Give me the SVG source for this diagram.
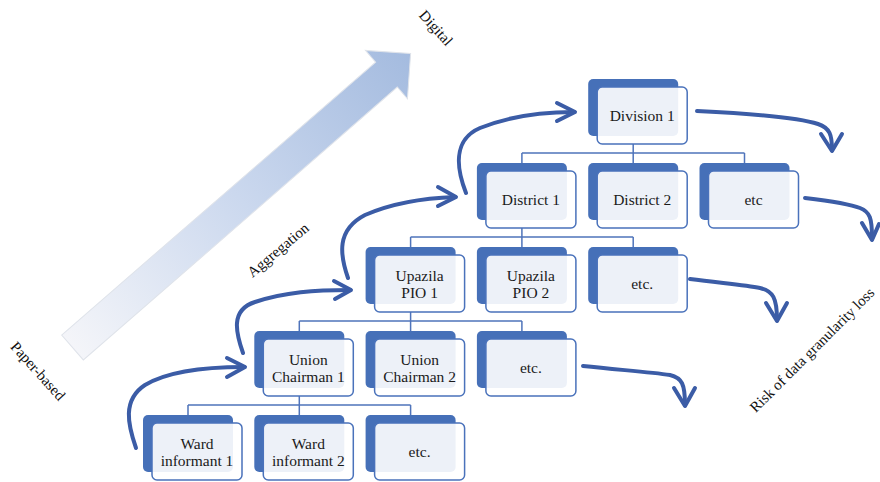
<svg xmlns="http://www.w3.org/2000/svg" width="880" height="482" viewBox="0 0 880 482" font-family="'Liberation Serif', 'Times New Roman', serif">
<defs>
<linearGradient id="bigGrad" x1="0" y1="0" x2="448" y2="0" gradientUnits="userSpaceOnUse">
<stop offset="0" stop-color="#f4f5f9"/>
<stop offset="0.5" stop-color="#cbd8ee"/>
<stop offset="1" stop-color="#a4bbdf"/>
</linearGradient>
</defs>
<style>
.back{fill:#4670b8;}
.front{fill:#ffffff;fill-opacity:0.9;stroke:#4a72bb;stroke-width:1.5;}
.lbl{font-family:'Liberation Serif','Times New Roman',serif;font-size:15.5px;fill:#1a1a1a;text-anchor:middle;}
.side{font-family:'Liberation Serif','Times New Roman',serif;font-size:15px;fill:#111;text-anchor:middle;}
.tree{fill:none;stroke:#4f74bb;stroke-width:1.5;}
.flow{fill:none;stroke:#3b5ca6;stroke-width:4;stroke-linecap:round;stroke-linejoin:round;}
</style>
<rect width="880" height="482" fill="#ffffff"/>

<g id="progress-arrow" transform="translate(72.5,347.5) rotate(-41)">
<polygon points="0,-16.5 416,-16.5 416,-32 448,0 416,32 416,16.5 0,16.5" fill="url(#bigGrad)" stroke="#dfe3ea" stroke-width="1"/>
</g>

<g id="labels" font-family="Liberation Serif, serif">
<text class="side" font-family="Liberation Serif, serif" transform="translate(436,28) rotate(48)" y="5">Digital</text>
<text class="side" font-family="Liberation Serif, serif" transform="translate(278,250) rotate(-40)" y="5">Aggregation</text>
<text class="side" font-family="Liberation Serif, serif" transform="translate(38,371) rotate(48)" y="5">Paper-based</text>
<text class="side" font-family="Liberation Serif, serif" transform="translate(812,350) rotate(-45)" y="5">Risk of data granularity loss</text>
</g>

<g id="connectors">
<g id="tree-lines">
<path class="tree" d="M188,405 H410.6 M188,405 V415 M299.3,405 V415 M410.6,405 V415 M299.3,396 V405"/>
<path class="tree" d="M299.3,321 H521.9 M299.3,321 V331 M410.6,321 V331 M521.9,321 V331 M410.6,312 V321"/>
<path class="tree" d="M410.6,237 H633.2 M410.6,237 V247 M521.9,237 V247 M633.2,237 V247 M521.9,228 V237"/>
<path class="tree" d="M521.9,153 H744.5 M521.9,153 V163 M633.2,153 V163 M744.5,153 V163 M633.2,144 V153"/>
</g>
<g id="aggregation-arrows">
<path class="flow" d="M136,448 C128,425 122,400 145,385 C170,370 210,367 244,367"/>
<path class="flow" d="M227,358 L245,367 L227,377"/>
<path class="flow" d="M243,353 C236,333 230,310 255,302 C285,292 315,290 350,290"/>
<path class="flow" d="M334,281 L351,290 L335,299"/>
<path class="flow" d="M348,278 C340,255 336,230 365,215 C395,202 425,198 455,197"/>
<path class="flow" d="M438,187 L456,197 L438,206"/>
<path class="flow" d="M466,193 C457,170 452,140 480,128 C510,116 545,112 574,112"/>
<path class="flow" d="M557,103 L575,112 L557,121"/>
</g>
<g id="loss-arrows">
<path class="flow" d="M697,111 C760,114 800,118 818,124 C830,128 832,135 832,150"/>
<path class="flow" d="M821,134 L832,151 L842,134"/>
<path class="flow" d="M805,198 C830,201 850,204 860,208 C870,212 872,218 872,238"/>
<path class="flow" d="M862,223 L872,240 L879,224"/>
<path class="flow" d="M690,279 C720,283 745,285 760,288 C773,291 777,298 777,320"/>
<path class="flow" d="M766,303 L777,321 L787,303"/>
<path class="flow" d="M583,366 C620,370 650,372 670,375 C682,378 685,384 685,405"/>
<path class="flow" d="M674,388 L685,406 L695,388"/>
</g>
</g>

<g id="nodes" font-family="Liberation Serif, serif">
<g id="n-ward1"><rect class="back" x="143" y="415" width="90" height="57" rx="5"/><rect class="front" x="152" y="423" width="90" height="57" rx="5"/><text class="lbl" font-family="Liberation Serif, serif"><tspan x="197" y="449">Ward</tspan><tspan x="197" y="465.5">informant 1</tspan></text></g>
<g id="n-ward2"><rect class="back" x="254.3" y="415" width="90" height="57" rx="5"/><rect class="front" x="263.3" y="423" width="90" height="57" rx="5"/><text class="lbl" font-family="Liberation Serif, serif"><tspan x="308.3" y="449">Ward</tspan><tspan x="308.3" y="465.5">informant 2</tspan></text></g>
<g id="n-ward-etc"><rect class="back" x="365.6" y="415" width="90" height="57" rx="5"/><rect class="front" x="374.6" y="423" width="90" height="57" rx="5"/><text class="lbl" font-family="Liberation Serif, serif" x="419.6" y="457">etc.</text></g>

<g id="n-union1"><rect class="back" x="254.3" y="331" width="90" height="57" rx="5"/><rect class="front" x="263.3" y="339" width="90" height="57" rx="5"/><text class="lbl" font-family="Liberation Serif, serif"><tspan x="308.3" y="365">Union</tspan><tspan x="308.3" y="381.5">Chairman 1</tspan></text></g>
<g id="n-union2"><rect class="back" x="365.6" y="331" width="90" height="57" rx="5"/><rect class="front" x="374.6" y="339" width="90" height="57" rx="5"/><text class="lbl" font-family="Liberation Serif, serif"><tspan x="419.6" y="365">Union</tspan><tspan x="419.6" y="381.5">Chairman 2</tspan></text></g>
<g id="n-union-etc"><rect class="back" x="476.9" y="331" width="90" height="57" rx="5"/><rect class="front" x="485.9" y="339" width="90" height="57" rx="5"/><text class="lbl" font-family="Liberation Serif, serif" x="530.9" y="373">etc.</text></g>

<g id="n-upazila1"><rect class="back" x="365.6" y="247" width="90" height="57" rx="5"/><rect class="front" x="374.6" y="255" width="90" height="57" rx="5"/><text class="lbl" font-family="Liberation Serif, serif"><tspan x="419.6" y="281">Upazila</tspan><tspan x="419.6" y="297.5">PIO 1</tspan></text></g>
<g id="n-upazila2"><rect class="back" x="476.9" y="247" width="90" height="57" rx="5"/><rect class="front" x="485.9" y="255" width="90" height="57" rx="5"/><text class="lbl" font-family="Liberation Serif, serif"><tspan x="530.9" y="281">Upazila</tspan><tspan x="530.9" y="297.5">PIO 2</tspan></text></g>
<g id="n-upazila-etc"><rect class="back" x="588.2" y="247" width="90" height="57" rx="5"/><rect class="front" x="597.2" y="255" width="90" height="57" rx="5"/><text class="lbl" font-family="Liberation Serif, serif" x="642.2" y="289">etc.</text></g>

<g id="n-district1"><rect class="back" x="476.9" y="163" width="90" height="57" rx="5"/><rect class="front" x="485.9" y="171" width="90" height="57" rx="5"/><text class="lbl" font-family="Liberation Serif, serif" x="530.9" y="205">District 1</text></g>
<g id="n-district2"><rect class="back" x="588.2" y="163" width="90" height="57" rx="5"/><rect class="front" x="597.2" y="171" width="90" height="57" rx="5"/><text class="lbl" font-family="Liberation Serif, serif" x="642.2" y="205">District 2</text></g>
<g id="n-district-etc"><rect class="back" x="699.5" y="163" width="90" height="57" rx="5"/><rect class="front" x="708.5" y="171" width="90" height="57" rx="5"/><text class="lbl" font-family="Liberation Serif, serif" x="753.5" y="205">etc</text></g>

<g id="n-division1"><rect class="back" x="588.2" y="79" width="90" height="57" rx="5"/><rect class="front" x="597.2" y="87" width="90" height="57" rx="5"/><text class="lbl" font-family="Liberation Serif, serif" x="642.2" y="121">Division 1</text></g>
</g>
</svg>
